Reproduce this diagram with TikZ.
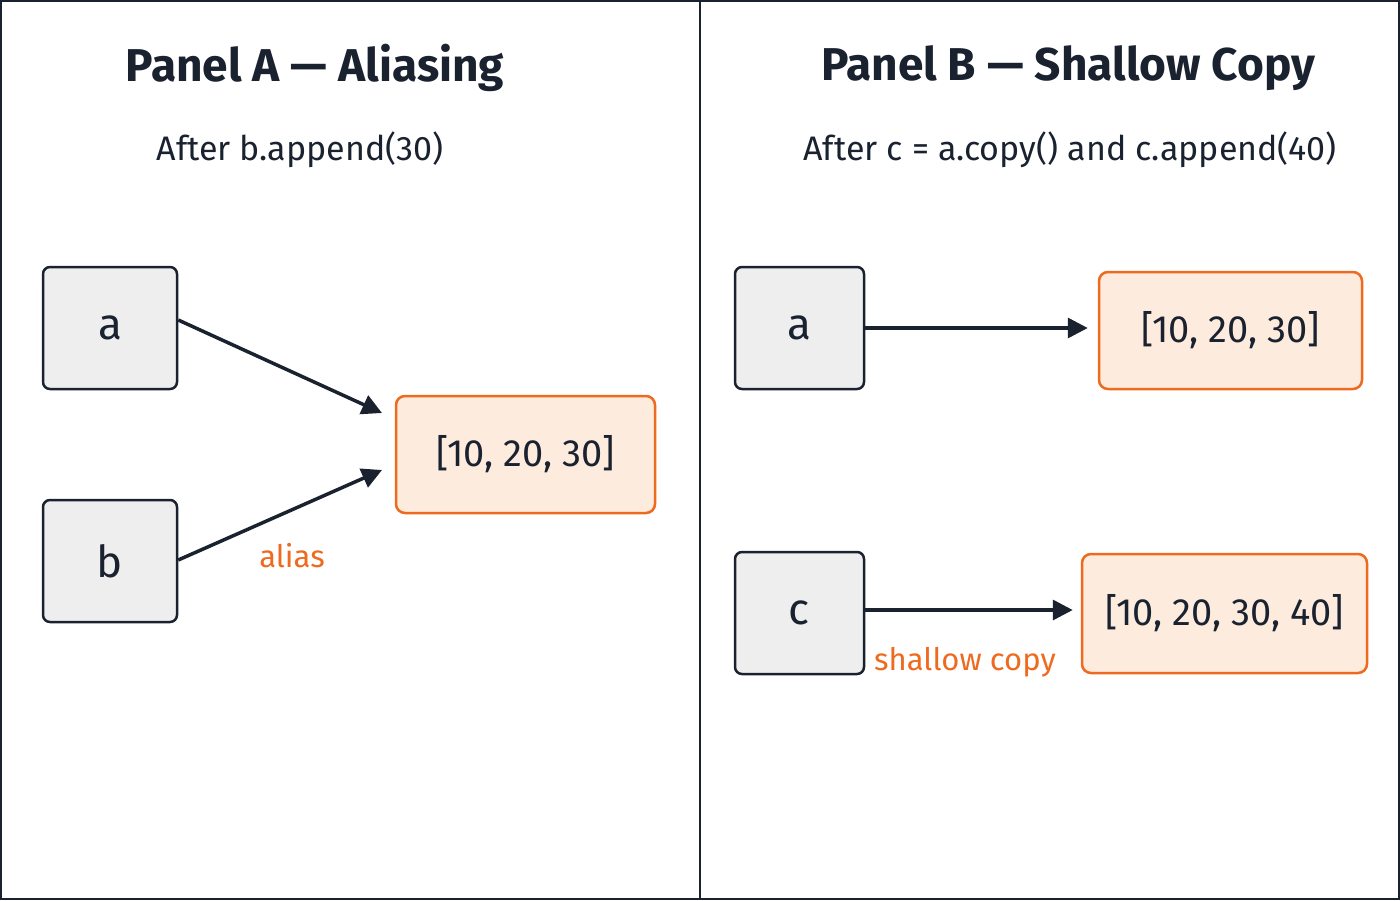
\documentclass[tikz,border=0pt]{standalone}
\usepackage{fontspec}
\setmainfont{Fira Sans}
\usetikzlibrary{arrows.meta}
\definecolor{ink}{HTML}{1A2230}
\definecolor{org}{HTML}{EE6A1F}
\definecolor{orgfill}{HTML}{FDEBDD}
\definecolor{grayfill}{HTML}{EEEEEF}
\begin{document}
\begin{tikzpicture}[x=1pt,y=-1pt,
  var/.style={draw=ink,line width=2.5pt,fill=grayfill,rounded corners=7pt,inner sep=0pt,font=\fontsize{44}{50}\selectfont,text=ink},
  lst/.style={draw=org,line width=2.5pt,fill=orgfill,rounded corners=9pt,inner sep=0pt,font=\fontsize{38}{44}\selectfont,text=ink},
  arr/.style={draw=ink,line width=3.5pt,-{Triangle[length=20pt,width=20pt]}},
  lab/.style={text=org,font=\fontsize{31}{36}\selectfont},
  ttl/.style={text=ink,font=\bfseries\fontsize{46}{52}\selectfont},
  sub/.style={text=ink,font=\fontsize{34}{40}\selectfont}]
\useasboundingbox (0,0) rectangle (1400,900);
\draw[ink,line width=2pt] (1,1) rectangle (1399,899);
\draw[ink,line width=2pt] (700,0) -- (700,900);
% Panel A
\node[ttl] (ta) at (315,68) {Panel A — Aliasing};
\node[sub] (sa) at (300,150) {After b.append(30)};
\node[var,minimum width=134pt,minimum height=122pt] (a) at (110,328) {a};
\node[var,minimum width=134pt,minimum height=122pt] (b) at (110,561) {b};
\node[lst,minimum width=259pt,minimum height=117pt] (la) at (525.5,454.5) {[10, 20, 30]};
\coordinate (ea) at (382,413);
\coordinate (eb) at (382,470);
\draw[arr] (a.east |- 0,320) -- (ea);
\draw[arr] (b.east |- 0,560) -- (eb);
\node[lab] (alias) at (292,556) {alias};
% Panel B
\node[ttl] (tb) at (1068,68) {Panel B — Shallow Copy};
\node[sub] (sb) at (1070,150) {After c = a.copy() and c.append(40)};
\node[var,minimum width=129pt,minimum height=122pt] (a2) at (799.5,328) {a};
\node[var,minimum width=129pt,minimum height=122pt] (c) at (799.5,613) {c};
\node[lst,minimum width=263pt,minimum height=117pt] (l1) at (1230.5,330.5) {[10, 20, 30]};
\node[lst,minimum width=285pt,minimum height=119pt] (l2) at (1224.5,613.5) {[10, 20, 30, 40]};
\draw[arr] (a2.east) -- ([xshift=-10pt]l1.west |- a2.east);
\draw[arr] (c.east |- 0,610) -- ([xshift=-8pt]l2.west |- 0,610);
\node[lab] (sc) at (965,662) {shallow copy};
\end{tikzpicture}
\end{document}
